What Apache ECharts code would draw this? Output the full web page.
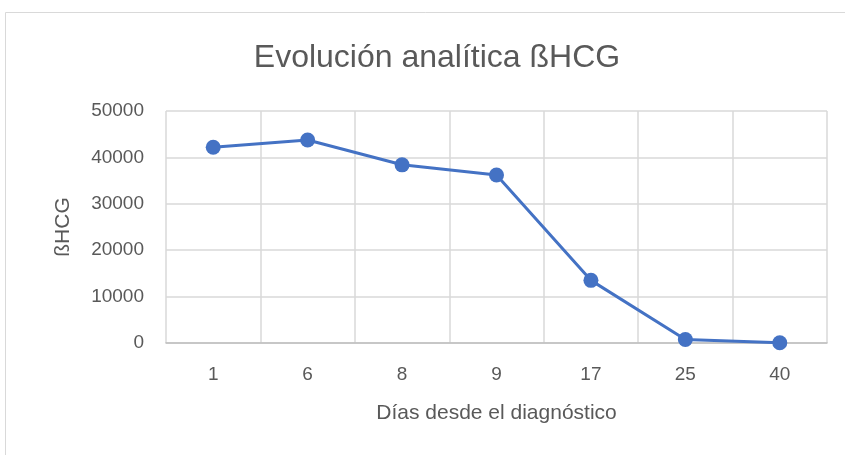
<!DOCTYPE html>
<html>
<head>
<meta charset="utf-8">
<script src="https://cdn.jsdelivr.net/npm/echarts@6/dist/echarts.min.js"></script>
<style>
  html, body { margin: 0; padding: 0; background: #fff; }
  #chart { width: 845px; height: 455px; }
</style>
</head>
<body>
<div id="chart"></div>
<script>
// datos
var dias = ["1", "6", "8", "9", "17", "25", "40"];
var hcg = [42200, 43750, 38400, 36200, 13500, 750, 50];
var yTicks = [0, 10000, 20000, 30000, 40000, 50000];

var FONT = "'Liberation Sans', sans-serif";
var chart = echarts.init(document.getElementById("chart"));

var option = {
  backgroundColor: "#fff",
  animation: false,
  title: {
    text: "Evolución analítica ßHCG",
    left: 432,
    textAlign: "center",
    top: 37,
    textStyle: { fontFamily: FONT, fontSize: 32, fontWeight: "normal", color: "#595959" }
  },
  graphic: [{
    type: "rect",
    shape: { x: 5.5, y: 12.5, width: 900, height: 500 },
    style: { fill: null, stroke: "#d9d9d9", lineWidth: 1 },
    silent: true
  }],
  grid: { left: 166, right: 18, top: 111, bottom: 112 },
  xAxis: {
    type: "category",
    data: dias,
    name: "Días desde el diagnóstico",
    nameLocation: "middle",
    nameGap: 60,
    nameTextStyle: { fontFamily: FONT, fontSize: 21, color: "#595959" },
    axisLine: { lineStyle: { color: "#bfbfbf", width: 1.5 } },
    axisTick: { show: false },
    axisLabel: { fontFamily: FONT, fontSize: 19, color: "#595959", margin: 22 },
    splitLine: { show: true, lineStyle: { color: "#d9d9d9", width: 1.5 } }
  },
  yAxis: {
    type: "value",
    min: yTicks[0],
    max: yTicks[yTicks.length - 1],
    interval: 10000,
    name: "ßHCG",
    nameLocation: "middle",
    nameGap: 92,
    nameTextStyle: { fontFamily: FONT, fontSize: 21, color: "#595959" },
    axisLine: { show: false },
    axisTick: { show: false },
    axisLabel: {
      fontFamily: FONT, fontSize: 19, color: "#595959", margin: 22,
      formatter: function (v) { return String(v); }
    },
    splitLine: { lineStyle: { color: "#d9d9d9", width: 1.5 } }
  },
  series: [{
    type: "line",
    data: hcg,
    symbol: "circle",
    symbolSize: 15,
    lineStyle: { color: "#4472C4", width: 3 },
    itemStyle: { color: "#4472C4" }
  }]
};

chart.setOption(option);
</script>
</body>
</html>
